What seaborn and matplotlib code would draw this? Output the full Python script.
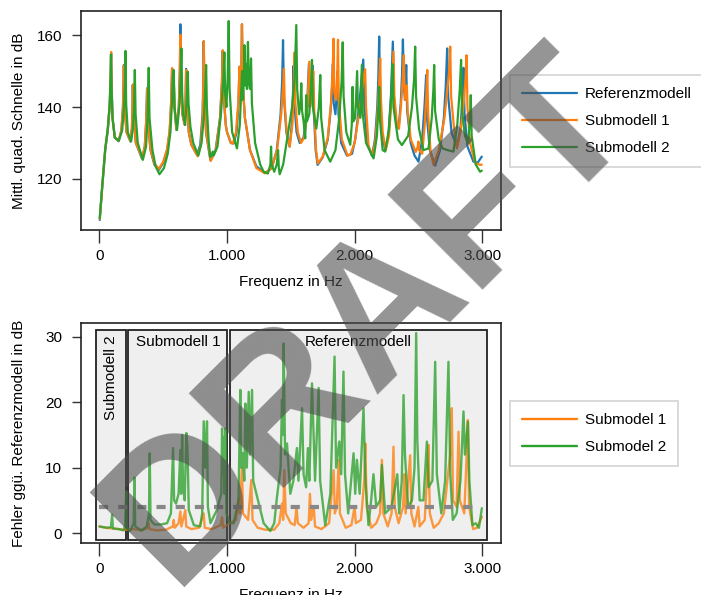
import matplotlib
matplotlib.use("Agg")
import matplotlib.pyplot as plt
import seaborn as sns
from matplotlib.patches import Rectangle
from matplotlib.ticker import FuncFormatter

# Referenzmodell (blau): Frequenz in Hz, Pegel in dB
ref_pts = [
    (2, 108.6), (20, 117.0), (45, 128.0), (65, 133.5), (80, 140), (88, 148), (91, 155.0), (95, 146), (102, 137),
    (120, 131.5), (150, 130.5), (172, 133.5), (184, 140), (191, 151.7), (197, 140), (212, 133), (243, 130.4),
    (254, 134), (258, 139), (261, 146.1), (266, 138), (285, 130), (334, 125.6), (355, 129), (366, 136),
    (373, 145.2), (379, 136), (400, 128), (430, 124), (465, 122.5), (500, 124.5), (530, 128), (550, 133), (562, 141), (569, 150.7),
    (576, 141), (582, 148), (588, 140), (603, 133.6), (622, 140), (630, 150), (634, 163.0), (640, 146),
    (650, 138), (668, 135), (675, 142), (679, 150.6), (686, 141), (700, 133), (720, 129.5), (765, 126.7),
    (790, 129.5), (808, 138), (814, 147), (817, 158.3), (822, 145), (835, 133), (869, 125.3), (910, 128),
    (945, 137), (960, 147), (966, 155.6), (972, 144), (990, 135), (1000, 133), (1030, 130), (1052, 129.9),
    (1075, 133), (1090, 141), (1097, 151.2), (1105, 143), (1112, 150), (1117, 163.0), (1124, 146), (1140, 137),
    (1180, 128), (1230, 123.5), (1300, 121.6), (1350, 123), (1390, 128), (1420, 138), (1432, 147),
    (1439, 158.6), (1446, 143), (1465, 133), (1491, 129), (1510, 136), (1518, 145), (1522, 151.5), (1528, 141),
    (1545, 133), (1570, 130), (1600, 131.5), (1625, 138), (1635, 146), (1642, 152.0), (1648, 140), (1660, 143),
    (1672, 151.5), (1680, 139), (1695, 128), (1710, 123.9), (1750, 126), (1790, 131), (1812, 139), (1824, 146),
    (1830, 152), (1836, 141), (1850, 138), (1862, 145), (1868, 150), (1874, 138), (1895, 130), (1940, 126.5),
    (1980, 127), (2005, 131), (2025, 137), (2040, 142), (2055, 148), (2068, 153.2), (2076, 141), (2100, 130),
    (2136, 126.4), (2160, 131), (2178, 140), (2186, 148), (2193, 159.6), (2200, 143), (2215, 133), (2240, 128),
    (2265, 132), (2285, 143), (2300, 158.2), (2308, 143), (2325, 136), (2345, 134), (2362, 141), (2372, 149),
    (2379, 158.8), (2386, 146), (2395, 142), (2405, 151.7), (2412, 139), (2440, 130), (2470, 126.5),
    (2501, 124.8), (2530, 131), (2548, 140), (2561, 148.9), (2568, 137), (2590, 128), (2632, 123.7), (2670, 128),
    (2700, 137), (2715, 146), (2726, 156.3), (2734, 143), (2760, 133), (2802, 129), (2830, 134), (2845, 142),
    (2854, 150.9), (2862, 138), (2885, 129), (2932, 124.8), (2965, 124.5), (2997, 126.2),
]

# Submodell 1 (orange)
sub1_pts = [
    (2, 108.9), (20, 117.2), (45, 128.2), (65, 133.7), (80, 140.5), (88, 149), (91, 155.3), (95, 146), (102, 137),
    (120, 131.5), (150, 130.6), (172, 133.6), (184, 140), (191, 151.5), (197, 140), (212, 133), (243, 130.5),
    (254, 134), (258, 139), (262, 146.3), (267, 138), (285, 130), (334, 125.8), (355, 129), (366, 136),
    (374, 145.2), (380, 136), (400, 128.2), (430, 124.3), (465, 122.8), (500, 124.8), (530, 128.3), (550, 133.5), (562, 142), (569, 150.8),
    (576, 141), (582, 148), (588, 140), (603, 133.8), (622, 140), (630, 150), (634, 160.1), (640, 146),
    (650, 138), (668, 135.2), (675, 142), (679, 150.3), (686, 141), (700, 133), (720, 129.5), (770, 126.3),
    (795, 129.5), (810, 138), (815, 147), (818, 158.3), (823, 145), (836, 133), (872, 125), (912, 128),
    (946, 137), (960, 147), (967, 155.8), (973, 144), (990, 135), (1000, 133), (1030, 130), (1045, 129.8),
    (1070, 133), (1088, 141), (1098, 151.2), (1106, 143), (1112, 150), (1117, 163.0), (1124, 146), (1140, 137),
    (1180, 128), (1230, 123), (1295, 121.6), (1350, 123), (1392, 128), (1425, 138), (1438, 145), (1446, 150.6),
    (1452, 141), (1470, 132), (1491, 129), (1512, 135), (1522, 145), (1530, 155.2), (1536, 141), (1555, 133),
    (1580, 130), (1605, 131.5), (1628, 138), (1637, 146), (1645, 152.6), (1651, 140), (1665, 143), (1676, 150),
    (1684, 139), (1698, 128), (1712, 124.3), (1750, 126.2), (1790, 131.5), (1815, 141), (1828, 150),
    (1835, 159.0), (1841, 144), (1855, 142), (1864, 149), (1870, 158.7), (1876, 142), (1900, 131),
    (1945, 126.5), (1966, 126.7), (2000, 130), (2030, 137), (2050, 142), (2070, 148), (2083, 150.5), (2090, 140),
    (2110, 129), (2140, 126.5), (2165, 131), (2183, 140), (2193, 147), (2201, 153.5), (2207, 142), (2220, 133),
    (2245, 128), (2270, 132), (2292, 143), (2305, 155.4), (2312, 143), (2330, 136), (2348, 134), (2365, 141),
    (2378, 148), (2386, 154.4), (2392, 145), (2400, 142), (2410, 146), (2416, 139), (2440, 131), (2480, 127.5),
    (2495, 129), (2501, 130.4), (2506, 128), (2530, 127), (2550, 135), (2562, 143), (2570, 150.3), (2577, 138),
    (2595, 128), (2619, 123.9), (2660, 128), (2705, 137), (2730, 146), (2742, 150), (2750, 156.8), (2757, 143),
    (2780, 134), (2802, 128.5), (2830, 133), (2855, 141), (2870, 148), (2878, 154.4), (2885, 140), (2905, 130),
    (2945, 124.5), (2984, 123.9), (2997, 124),
]

# Submodell 2 (gruen)
sub2_pts = [
    (2, 109.1), (20, 117.5), (45, 128.5), (65, 134), (80, 141), (87, 149), (90, 154.6), (94, 146), (102, 137),
    (120, 131.5), (151, 130.6), (178, 133.5), (192, 140), (199, 146), (204, 155.6), (209, 141), (222, 133),
    (248, 130.4), (262, 134), (270, 139), (277, 150.3), (283, 138), (300, 130), (340, 125.3), (365, 129),
    (377, 137), (386, 150.9), (392, 137), (415, 128), (440, 123.5), (470, 121.3), (505, 123), (535, 127), (556, 133), (568, 141),
    (575, 148), (582, 150.3), (588, 140), (608, 133.6), (628, 141), (636, 148), (642, 156.3), (648, 144),
    (656, 138), (672, 135), (684, 142), (692, 149.8), (698, 141), (713, 134.5), (735, 130), (775, 126.5),
    (800, 130), (820, 138), (830, 146), (836, 151.7), (842, 140), (855, 131), (868, 126.1), (880, 126.5),
    (888, 127.6), (895, 126.5), (925, 129), (952, 138), (970, 147), (979, 155.2), (985, 144), (995, 140),
    (1005, 148), (1013, 163.9), (1020, 145), (1040, 133), (1078, 128.5), (1100, 135), (1112, 145), (1118, 150),
    (1124, 142), (1132, 148), (1136, 157.2), (1142, 146), (1150, 152), (1156, 145), (1164, 158.1), (1170, 147),
    (1180, 145), (1188, 153.5), (1195, 141), (1220, 130), (1260, 124), (1287, 122), (1320, 121.5), (1340, 124),
    (1345, 129), (1350, 124), (1370, 122), (1390, 124), (1400, 128), (1406, 123), (1413, 121.3), (1440, 124),
    (1475, 132), (1510, 140), (1530, 148), (1543, 162.8), (1550, 145), (1565, 138), (1576, 141), (1582, 146.6),
    (1588, 139), (1600, 136), (1613, 131.3), (1621, 143.3), (1627, 136), (1645, 138), (1658, 146),
    (1666, 153.1), (1673, 140), (1700, 134), (1720, 140), (1731, 148.9), (1738, 137), (1765, 128),
    (1809, 124.8), (1850, 128), (1880, 137), (1898, 147), (1907, 158.0), (1914, 143), (1935, 133),
    (1966, 129.5), (1978, 135), (1984, 145.6), (1990, 136), (2005, 137), (2014, 145), (2020, 150), (2026, 140),
    (2045, 137), (2052, 145), (2057, 151.7), (2064, 138), (2090, 130), (2149, 125.7), (2175, 132), (2187, 140),
    (2193, 145.6), (2200, 136), (2220, 128), (2240, 127.6), (2270, 134), (2287, 143), (2298, 151.9), (2305, 140),
    (2340, 131), (2371, 129.4), (2420, 132), (2450, 140), (2467, 148), (2475, 156.8), (2482, 143), (2505, 134),
    (2540, 128), (2580, 128.5), (2605, 137), (2618, 145), (2624, 151.7), (2631, 139), (2660, 131),
    (2690, 128.5), (2730, 128), (2775, 127.6), (2805, 135), (2825, 145), (2835, 153.1), (2842, 139),
    (2865, 132), (2890, 130), (2905, 137), (2911, 143.3), (2918, 132), (2950, 124), (2984, 122), (2997, 122.3),
]

# Fehler ggü. Referenzmodell in dB
err1_pts = [
    (0, 1.0), (50, 0.8), (100, 0.7), (150, 0.6), (200, 0.5), (260, 0.6), (330, 0.4), (380, 0.8), (386, 1.5),
    (392, 0.6), (450, 0.4), (520, 0.5), (575, 1.0), (582, 2.0), (590, 0.8), (620, 1.5), (634, 3.3), (642, 1.0),
    (673, 3.5), (680, 1.0), (720, 0.6), (780, 0.8), (817, 3), (825, 0.8), (880, 0.6), (950, 1.2), (961, 2.4),
    (970, 0.8), (1020, 1.5), (1070, 2), (1091, 5.3), (1100, 3), (1117, 9.9), (1125, 3), (1165, 2), (1190, 8.1),
    (1200, 2), (1240, 0.8), (1300, 0.5), (1370, 0.5), (1410, 1.5), (1431, 4.5), (1440, 2), (1449, 9.6),
    (1460, 3), (1500, 1.5), (1530, 1.2), (1545, 4), (1555, 1.5), (1600, 0.8), (1640, 1.5), (1650, 6),
    (1660, 2), (1680, 4), (1690, 1), (1740, 0.6), (1800, 1.5), (1836, 9.6), (1845, 3), (1860, 4), (1875, 11.2),
    (1885, 3), (1930, 0.8), (1975, 1.2), (2000, 4), (2010, 1.5), (2050, 2), (2076, 8), (2084, 13.7), (2095, 4),
    (2130, 0.8), (2170, 1.5), (2200, 3), (2214, 11.2), (2225, 3), (2260, 1), (2290, 3), (2305, 13.2),
    (2315, 4), (2345, 1.5), (2380, 4), (2391, 9), (2400, 3), (2436, 11.9), (2445, 3), (2470, 1), (2500, 4),
    (2510, 1), (2550, 2), (2572, 10), (2579, 13.5), (2590, 3), (2620, 0.8), (2660, 1.5), (2700, 3),
    (2749, 12), (2762, 19.1), (2772, 5), (2800, 4), (2815, 15.5), (2825, 5), (2860, 3), (2875, 10),
    (2888, 17.3), (2898, 4), (2930, 0.6), (2960, 0.8), (2998, 2.5),
]

err2_pts = [
    (0, 1.0), (60, 0.8), (90, 0.9), (99, 2.8), (105, 0.7), (150, 0.6), (190, 0.4), (202, 1.5), (209, 6.3),
    (214, 0.8), (240, 0.3), (268, 1.5), (274, 8.5), (280, 1.0), (330, 0.4), (370, 1.0), (388, 3), (394, 12.2),
    (400, 2.0), (430, 1.3), (480, 1.3), (530, 1.5), (560, 3), (577, 13), (585, 5), (600, 4.5), (620, 6),
    (634, 12.7), (640, 6), (648, 15), (655, 7), (668, 5), (681, 15.3), (690, 13), (700, 3.5), (740, 1.2),
    (790, 1.0), (805, 3), (817, 17.1), (830, 10), (843, 17.1), (850, 4), (870, 1.5), (920, 3.5), (955, 6),
    (961, 16), (968, 9), (974, 14.7), (980, 6), (987, 16), (995, 3), (1020, 1.5), (1052, 1.5), (1090, 5),
    (1104, 21.9), (1112, 10), (1125, 12.2), (1135, 8), (1144, 19.8), (1155, 10), (1170, 21.6), (1180, 12),
    (1196, 21.9), (1205, 8), (1235, 5.6), (1287, 1.5), (1339, 0.3), (1370, 1.5), (1392, 5.6), (1420, 10),
    (1431, 20.4), (1438, 15), (1444, 29), (1455, 12), (1470, 13.7), (1496, 6), (1520, 8), (1548, 13),
    (1560, 8), (1588, 19.1), (1600, 9), (1620, 7), (1634, 13), (1645, 8), (1666, 22.9), (1690, 8),
    (1718, 22.2), (1730, 8), (1770, 1.2), (1810, 6), (1843, 27), (1855, 10), (1880, 14), (1895, 9),
    (1913, 24.7), (1925, 9), (1950, 3), (1992, 12.2), (2005, 6), (2018, 11.2), (2040, 6), (2070, 19.1),
    (2085, 8), (2109, 1.2), (2130, 5), (2148, 9), (2170, 4), (2200, 5), (2214, 10.4), (2240, 3), (2290, 4),
    (2335, 9), (2350, 3), (2370, 8), (2384, 21.1), (2395, 12), (2420, 4), (2450, 5), (2470, 10), (2483, 30.6),
    (2492, 14), (2510, 5), (2540, 5), (2567, 14), (2580, 7), (2610, 8), (2632, 26.2), (2645, 9), (2680, 3),
    (2710, 8), (2736, 26.2), (2750, 9), (2770, 2), (2800, 3), (2830, 8), (2854, 18.6), (2865, 12), (2889, 17),
    (2900, 8), (2924, 1.2), (2950, 1.5), (2975, 0.8), (2998, 3.8),
]

# Bereiche der Modelle (Hz) und Schwelle
bereiche = [(-25, 205, "Submodell 2"), (220, 1000, "Submodell 1"), (1020, 3035, "Referenzmodell")]
schwelle = 4

blau, orange, gruen = "#1f77b4", "#ff7f0e", "#2ca02c"

sns.set_theme(style="ticks")
plt.rcParams["font.family"] = ["Liberation Sans", "DejaVu Sans"]
plt.rcParams["font.size"] = 11
for k in ("text.color", "axes.labelcolor", "xtick.labelcolor", "ytick.labelcolor"):
    plt.rcParams[k] = "black"

fig = plt.figure(figsize=(7.01, 5.95), dpi=100)
ax1 = fig.add_axes([81 / 701, 1 - 230 / 595, 420 / 701, 219 / 595])
ax2 = fig.add_axes([81 / 701, 1 - 543 / 595, 420 / 701, 220 / 595])

def xy(pts):
    return [p[0] for p in pts], [p[1] for p in pts]

for pts, col, lab in [(ref_pts, blau, "Referenzmodell"), (sub1_pts, orange, "Submodell 1"), (sub2_pts, gruen, "Submodell 2")]:
    x, y = xy(pts)
    sns.lineplot(x=x, y=y, ax=ax1, color=col, lw=1.6, label=lab, estimator=None, sort=False)

for x0, x1, name in bereiche:
    ax2.add_patch(Rectangle((x0, -1), x1 - x0, 32, facecolor="#efefef", edgecolor="#222222", lw=1.3, zorder=0.5))

for pts, col, lab in [(err1_pts, orange, "Submodel 1"), (err2_pts, gruen, "Submodel 2")]:
    x, y = xy(pts)
    sns.lineplot(x=x, y=y, ax=ax2, color=col, lw=1.7, alpha=0.78, label=lab, estimator=None, sort=False)

ax2.plot([0, 3000], [schwelle, schwelle], color="#888888", lw=3, dashes=(2.2, 2.4), zorder=3)

ax2.text(90, 30.3, bereiche[0][2], rotation=90, ha="center", va="top", fontsize=11)
ax2.text(615, 30.3, bereiche[1][2], ha="center", va="top", fontsize=11)
ax2.text(2027, 30.3, bereiche[2][2], ha="center", va="top", fontsize=11)

tausend = FuncFormatter(lambda v, p: f"{int(v):,}".replace(",", "."))
for ax in (ax1, ax2):
    ax.set_xlim(-145, 3148)
    ax.set_xticks([0, 1000, 2000, 3000])
    ax.xaxis.set_major_formatter(tausend)
    ax.tick_params(axis="x", length=9.5, width=1, color="#333333", pad=4.5, labelsize=11)
    ax.tick_params(axis="y", length=6.5, width=1, color="#333333", pad=7, labelsize=11)
    for s in ax.spines.values():
        s.set_visible(True)
        s.set_color("#222222")
        s.set_linewidth(1.2)
    ax.set_xlabel("Frequenz in Hz", fontsize=11, labelpad=8)
    ax.yaxis.set_label_coords(-0.13, 0.5)

ax1.set_ylim(105.8, 166.7)
ax1.set_yticks([120, 140, 160])
ax1.set_ylabel("Mittl. quad. Schnelle in dB", fontsize=11)
ax2.set_ylim(-1.53, 32.14)
ax2.set_yticks([0, 10, 20, 30])
ax2.set_ylabel("Fehler ggü. Referenzmodell in dB", fontsize=11)

leg_kw = dict(loc="upper left", bbox_transform=fig.transFigure, borderaxespad=0, frameon=True, fancybox=False,
              edgecolor="#c8c8c8", fontsize=11, handlelength=3.6, handletextpad=0.5, labelspacing=0.85,
              borderpad=0.8)
l1 = ax1.legend(bbox_to_anchor=(510 / 701, 1 - 75 / 595), **leg_kw)
l2 = ax2.legend(bbox_to_anchor=(510 / 701, 1 - 401 / 595), **leg_kw)
for lg in (l1, l2):
    lg.get_frame().set_linewidth(1.2)
    for h in lg.get_lines():
        h.set_alpha(1)

fig.text(0.526, 0.466, "DRAFT", rotation=45, fontsize=140, fontweight="bold", color="#4d4d4d", alpha=0.6,
         ha="center", va="center", zorder=10)

fig.savefig("out.png", dpi=100)
